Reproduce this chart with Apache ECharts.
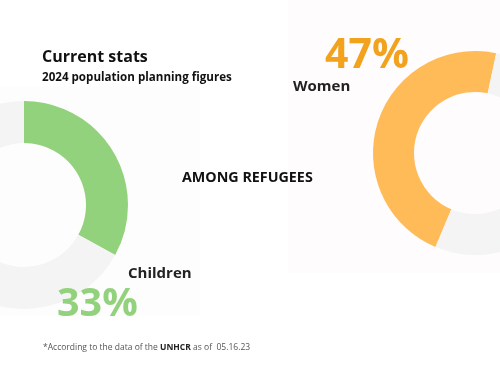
<!DOCTYPE html>
<html>
<head>
<meta charset="utf-8">
<script src="https://cdn.jsdelivr.net/npm/echarts@6/dist/echarts.min.js"></script>
<style>
  html, body { margin: 0; padding: 0; background: #fff; }
  #chart { width: 500px; height: 375px; }
</style>
</head>
<body>
<div id="chart"></div>
<script>
// data
var groups = ['Children', 'Women'];
var shares = [33, 47];
var shareLabels = ['33%', '47%'];
var groupColors = ['#93d27c', '#ffbb58'];
var restColor = '#f4f4f4';

var font = '"Open Sans", "Noto Sans", sans-serif';

var myChart = echarts.init(document.getElementById('chart'));

function ring(i, center, radius, startAngle, clockwise) {
  return {
    type: 'pie',
    center: center,
    radius: radius,
    startAngle: startAngle,
    clockwise: clockwise,
    silent: true,
    label: { show: false },
    labelLine: { show: false },
    data: [
      { value: shares[i], name: groups[i], itemStyle: { color: groupColors[i] } },
      { value: 100 - shares[i], name: 'rest', itemStyle: { color: restColor } }
    ]
  };
}

function txt(x, y, text, size, weight, color) {
  return {
    type: 'text', x: x, y: y, z: 10,
    style: {
      text: text, fontSize: size, fontWeight: weight, fontFamily: font,
      fill: color, align: 'left', verticalAlign: 'middle'
    }
  };
}

var option = {
  backgroundColor: '#ffffff',
  animation: false,
  graphic: [
    // faint panels behind
    { type: 'rect', z: -10, shape: { x: 288, y: 0, width: 212, height: 273 }, style: { fill: '#fefcfd' } },
    { type: 'rect', z: -10, shape: { x: 0, y: 86, width: 200, height: 230 }, style: { fill: '#fefdfe' } },
    txt(42, 57.5, 'Current stats', 16, 'bold', '#111111'),
    txt(42, 78, '2024 population planning figures', 11.6, 'bold', '#111111'),
    txt(325, 56.5, shareLabels[1], 41, 'bold', '#f2a21d'),
    txt(293, 87, groups[1], 15, 'bold', '#222222'),
    txt(182, 178, 'AMONG REFUGEES', 14.3, 'bold', '#111111'),
    txt(128, 273.5, groups[0], 15, 'bold', '#222222'),
    txt(57, 304.5, shareLabels[0], 39.5, 'bold', '#93d27c'),
    {
      type: 'text', x: 43, y: 348, z: 10,
      style: {
        text: '*According to the data of the {b|UNHCR} as of  05.16.23',
        fontSize: 8.5, fontFamily: font, fill: '#555555',
        align: 'left', verticalAlign: 'middle',
        rich: { b: { fontSize: 8.5, fontWeight: 'bold', fontFamily: font, fill: '#222222' } }
      }
    }
  ],
  series: [
    ring(0, [24, 205], [62, 104], 90, true),
    ring(1, [475, 153], [61, 102], 78, false)
  ]
};

myChart.setOption(option);
</script>
</body>
</html>
